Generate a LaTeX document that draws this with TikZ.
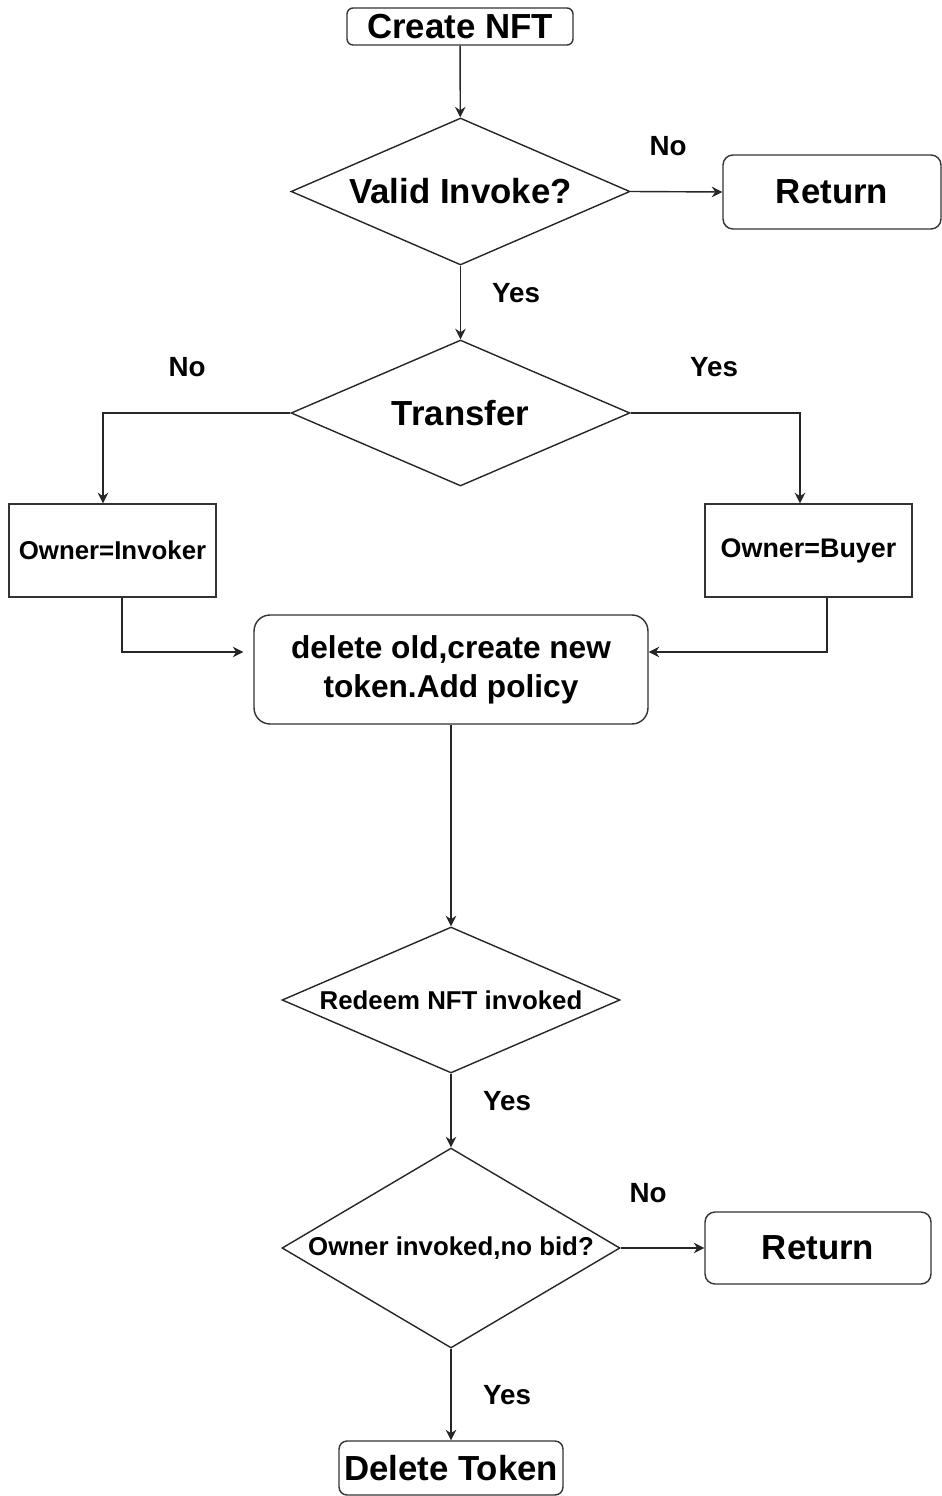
\documentclass[tikz,border=0pt]{standalone}
\usepackage{fontspec}
\setmainfont{Liberation Sans}
\usetikzlibrary{shapes.geometric,arrows.meta,calc}
\begin{document}
\begin{tikzpicture}[x=0.02cm,y=-0.02cm,
  line width=0.8pt,
  every node/.style={font=\bfseries},
  conn/.style={draw=black!85,-{Stealth[length=6pt,width=6pt]}},
  bigtxt/.style={font=\bfseries\fontsize{19.8}{23}\selectfont},
  midtxt/.style={font=\bfseries\fontsize{18}{22}\selectfont},
  smalltxt/.style={font=\bfseries\fontsize{14.7}{17}\selectfont},
  lbl/.style={font=\bfseries\fontsize{15.8}{18}\selectfont},
  rbox/.style={draw=black!80,rounded corners=#1,inner sep=0pt,align=center},
  sbox/.style={draw=black!80,inner sep=0pt,align=center},
  dia/.style={draw=black!85,diamond,inner sep=0pt,aspect=#1}]
\useasboundingbox (0,0) rectangle (942,1496);

\node[rbox=0.12cm,bigtxt,minimum width=4.52cm,minimum height=0.74cm] (create) at (460,26.5) {Create NFT};
\node[dia=2.3,bigtxt,minimum width=6.78cm,minimum height=2.94cm] (valid) at (460.5,191.5) {Valid Invoke?};
\node[rbox=0.2cm,bigtxt,minimum width=4.36cm,minimum height=1.48cm] (ret1) at (832,192) {Return};
\node[dia=2.3,bigtxt,minimum width=6.78cm,minimum height=2.92cm] (transfer) at (460.5,413) {Transfer};
\node[sbox,smalltxt,minimum width=4.14cm,minimum height=1.86cm] (inv) at (112.5,550.5) {Owner=Invoker};
\node[sbox,smalltxt,font=\bfseries\fontsize{15.3}{18}\selectfont,minimum width=4.14cm,minimum height=1.86cm] (buyer) at (808.5,550.5) {Owner=Buyer};
\node[rbox=0.32cm,midtxt,minimum width=7.88cm,minimum height=2.18cm] (mid) at (451,669.5) {delete old,create new\\token.Add policy};
\node[dia=2.3,smalltxt,minimum width=6.76cm,minimum height=2.92cm] (redeem) at (451,1000) {Redeem NFT invoked};
\node[dia=1.69,smalltxt,minimum width=6.76cm,minimum height=4.0cm] (owner) at (451,1248) {Owner invoked,no bid?};
\node[rbox=0.2cm,bigtxt,minimum width=4.52cm,minimum height=1.44cm] (ret2) at (818,1248) {Return};
\node[rbox=0.16cm,bigtxt,minimum width=4.48cm,minimum height=1.08cm] (del) at (451,1468) {Delete Token};

\draw[conn] (create) -- (valid);
\draw[conn] (valid.east) -- (ret1.west);
\draw[conn] (valid.south) -- (transfer.north);
\draw[conn] (transfer.west) -| ($(inv.north)+(-9.5,0)$);
\draw[conn] (transfer.east) -| ($(buyer.north)+(-8.5,0)$);
\draw[conn] ($(inv.south)+(9.5,0)$) |- ($(mid.west)+(-10,-17.5)$);
\draw[conn] ($(buyer.south)+(18.5,0)$) |- ($(mid.east)+(0,-17.5)$);
\draw[conn] (mid.south) -- (redeem.north);
\draw[conn] (redeem.south) -- (owner.north);
\draw[conn] (owner.east) -- (ret2.west);
\draw[conn] (owner.south) -- (del.north);

\node[lbl] (l1) at (668,146) {No};
\node[lbl] (l2) at (516,293) {Yes};
\node[lbl] (l3) at (187,367) {No};
\node[lbl] (l4) at (714,367) {Yes};
\node[lbl] (l5) at (507,1101) {Yes};
\node[lbl] (l6) at (648,1193) {No};
\node[lbl] (l7) at (507,1395) {Yes};
\end{tikzpicture}
\end{document}
